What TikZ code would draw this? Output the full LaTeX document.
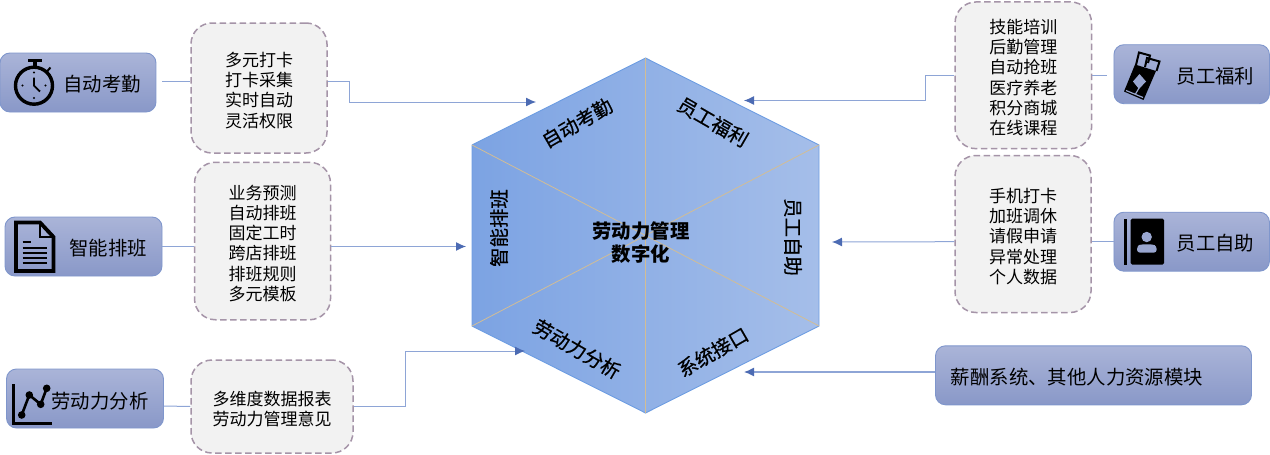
\documentclass[tikz,border=0pt]{standalone}
\usepackage{fontspec}
\setmainfont{Noto Sans CJK SC}
\newfontfamily\midfont[FakeBold=0.6]{Noto Sans CJK SC}
\usetikzlibrary{arrows.meta}

\definecolor{tagtop}{HTML}{AAB4D8}
\definecolor{tagbot}{HTML}{8998C8}
\definecolor{tagline}{HTML}{7F96CC}
\definecolor{tagfill}{HTML}{99A6CF}
\definecolor{listfill}{HTML}{F2F2F2}
\definecolor{listline}{HTML}{A594A8}
\definecolor{linkline}{HTML}{8EA5D6}
\definecolor{tipblue}{HTML}{4C6BB3}
\definecolor{hexleft}{HTML}{7CA3E3}
\definecolor{hexright}{HTML}{A5BEE9}
\definecolor{hexline}{HTML}{6D9DE2}
\definecolor{hexdiv}{HTML}{D2BD95}

\newcommand{\listdrop}{\rule{0pt}{19pt}}

\tikzset{
  tagbox/.style={draw=tagline, line width=0.9pt, rounded corners=10pt, top color=tagtop, bottom color=tagbot, minimum height=59pt, inner sep=0pt},
  tagtext/.style={font=\fontsize{19.4}{22}\selectfont, inner sep=0pt},
  listbox/.style={draw=listline, fill=listfill, line width=1.5pt, dash pattern=on 6.5pt off 3.5pt, rounded corners=21pt, inner sep=0pt, align=center, font=\fontsize{17}{20.3}\selectfont},
  hextext/.style={font=\midfont\fontsize{19.4}{22}\selectfont, inner sep=0pt},
  midtext/.style={font=\bfseries\fontsize{19.4}{23}\selectfont, inner sep=0pt, align=center},
  link/.style={draw=linkline, line width=1pt},
  linkto/.style={link, -{Latex[length=10pt,width=9pt,color=tipblue]}},
  hexdivide/.style={draw=hexdiv, line width=0.8pt},
}

\begin{document}
\begin{tikzpicture}[x=1pt,y=-1pt]
  \useasboundingbox (0,0) rectangle (1270,455);

  % Hexagono central
  \coordinate (hexT) at (645.5,58);
  \coordinate (hexTR) at (819,145);
  \coordinate (hexBR) at (819,326);
  \coordinate (hexB) at (645.5,413);
  \coordinate (hexBL) at (472,326);
  \coordinate (hexTL) at (472,145);
  \draw[draw=hexline, line width=0.9pt, left color=hexleft, right color=hexright]
    (hexT) -- (hexTR) -- (hexBR) -- (hexB) -- (hexBL) -- (hexTL) -- cycle;
  \draw[hexdivide] (hexT) -- (hexB);
  \draw[hexdivide] (hexTL) -- (hexBR);
  \draw[hexdivide] (hexTR) -- (hexBL);

  % Textos del hexagono
  \node[hextext, rotate=30] (hexAuto) at (577,123) {自动考勤};
  \node[hextext, rotate=-30] (hexBen) at (713,122) {员工福利};
  \node[hextext, rotate=90] (hexPlan) at (499,228) {智能排班};
  \node[hextext, rotate=-90] (hexSelf) at (793,237) {员工自助};
  \node[hextext, rotate=-30] (hexAnal) at (577,349) {劳动力分析};
  \node[hextext, rotate=30] (hexSys) at (713,352) {系统接口};
  \node[midtext] (hexMid) at (641,242.5) {劳动力管理\\数字化};

  % Cajas de la izquierda
  \node[tagbox, minimum width=156pt] (tagAuto) at (78,82.5) {};
  \node[tagbox, minimum width=157pt] (tagPlan) at (83.5,246.5) {};
  \node[tagbox, minimum width=157pt] (tagAnal) at (85,398.5) {};
  \node[tagtext] (txtAuto) at (102,84.5) {自动考勤};
  \node[tagtext] (txtPlan) at (108,248) {智能排班};
  \node[tagtext] (txtAnal) at (100,401) {劳动力分析};

  % Cajas de la derecha
  \node[tagbox, minimum width=155.5pt] (tagBen) at (1191.7,74.2) {};
  \node[tagbox, minimum width=155.5pt] (tagSelf) at (1191.7,241.7) {};
  \node[tagbox, minimum width=316pt] (tagSys) at (1093.5,375.3) {};
  \node[tagtext] (txtBen) at (1215.5,76) {员工福利};
  \node[tagtext] (txtSelf) at (1215.5,243) {员工自助};
  \node[tagtext] (txtSys) at (1077,376.7) {薪酬系统、其他人力资源模块};

  % Listas punteadas
  \node[listbox, minimum width=136pt, minimum height=130pt] (listAuto) at (259,88)
    {\listdrop 多元打卡\\打卡采集\\实时自动\\灵活权限};
  \node[listbox, minimum width=136pt, minimum height=157.5pt] (listPlan) at (262.5,241)
    {\listdrop 业务预测\\自动排班\\固定工时\\跨店排班\\排班规则\\多元模板};
  \node[listbox, minimum width=162pt, minimum height=93pt] (listAnal) at (272,406.5)
    {\listdrop 多维度数据报表\\劳动力管理意见};
  \node[listbox, minimum width=136.5pt, minimum height=146.7pt] (listBen) at (1023.3,75.3)
    {\listdrop 技能培训\\后勤管理\\自动抢班\\医疗养老\\积分商城\\在线课程};
  \node[listbox, minimum width=136pt, minimum height=157pt] (listSelf) at (1023,234)
    {\listdrop 手机打卡\\加班调休\\请假申请\\异常处理\\个人数据};

  % Puntas de las flechas
  \coordinate (toAuto) at (536,102);
  \coordinate (toPlan) at (466,246.5);
  \coordinate (toAnal) at (525,351);
  \coordinate (toBen) at (744,100.5);
  \coordinate (toSelf) at (832,242);
  \coordinate (toSys) at (744,372);

  % Conectores de la izquierda
  \draw[link] ([xshift=6pt,yshift=1.5pt]tagAuto.east) -- ([yshift=7pt]listAuto.west);
  \draw[linkto] ([yshift=7pt]listAuto.east) -- (349,81) -- (349,102) -- (toAuto);
  \draw[link] (tagPlan.east) -- ([yshift=-5.5pt]listPlan.west);
  \draw[linkto] ([yshift=-5.5pt]listPlan.east) -- (toPlan);
  \draw[link] ([yshift=-7.5pt]tagAnal.east) -- (listAnal.west);
  \draw[linkto] (listAnal.east) -- (405,406.5) -- (405,351) -- (toAnal);

  % Conectores de la derecha
  \draw[link] ([xshift=-7pt,yshift=-1.1pt]tagBen.west) -- (listBen.east);
  \draw[linkto] (listBen.west) -- (925.3,75.3) -- (925.3,100.5) -- (toBen);
  \draw[link] (tagSelf.west) -- ([yshift=-7.7pt]listSelf.east);
  \draw[linkto] ([yshift=-7.7pt]listSelf.west) -- (toSelf);
  \draw[linkto, line width=1.3pt] ([yshift=3.3pt]tagSys.west) -- (toSys);

  % Icono cronometro
  \draw[line width=3.4pt] (34,85.7) circle (18.5pt);
  \fill (27.7,59.3) rectangle (41.7,62);
  \fill (32.5,62) rectangle (36.5,66);
  \draw[line width=2pt] (46.5,72) -- (50.5,67.5);
  \draw[line width=1.8pt] (34,77.5) -- (34,85.7) -- (40,91.5);
  \foreach \px/\py in {34/72.5, 34/98, 22.5/85.5, 45.5/85.5} {
    \fill (\px,\py) circle (1.2pt);
  }

  % Icono documento
  \draw[line width=3.8pt, line join=miter] (40,222.5) -- (16,222.5) -- (16,271) -- (53.5,271) -- (53.5,237) -- cycle;
  \draw[line width=2.5pt] (40,222.5) -- (40,237) -- (53.5,237);
  \draw[line width=2.2pt] (22.5,242.3) -- (31,242.3);
  \foreach \ly in {247.7,252.7,257.7,262.7} {
    \draw[line width=2.2pt] (22.5,\ly) -- (47,\ly);
  }

  % Icono grafica
  \draw[line width=3pt] (13,384) -- (13,423.5) -- (52,423.5);
  \draw[line width=2.6pt] (21.7,415) -- (29.3,395) -- (40.7,404.3) -- (46.7,388.3);
  \foreach \px/\py in {21.7/415, 29.3/395, 40.7/404.3, 46.7/388.3} {
    \fill (\px,\py) circle (3.8pt);
  }

  % Icono tarjetas
  \draw[line width=2pt] (1136,65) -- (1139,52.5) -- (1150,55.5) -- (1148,63);
  \draw[line width=2pt] (1145,67) -- (1147,58) -- (1159.5,61.5) -- (1156.5,71);
  \fill (1135,64.5) -- (1156,71) -- (1143.5,100) -- (1124,91.5) -- cycle;
  \fill[tagfill] (1139.5,74) -- (1146,81.5) -- (1139,89) -- (1133,81.5) -- cycle;
  \draw[tagfill, line width=1.2pt] (1139,88) -- (1135.5,94);
  \draw[tagfill, line width=1.2pt] (1126,90.5) -- (1143,97.5);

  % Icono agenda
  \fill (1124.3,218.7) rectangle (1127,264.7);
  \fill[rounded corners=1.5pt] (1130.7,218.7) rectangle (1164,264.7);
  \fill[tagfill] (1146.7,237) circle (5.2pt);
  \fill[tagfill, rounded corners=3pt] (1137,252.7) -- (1137,246) -- (1141,244.3) -- (1152.5,244.3) -- (1156.7,246) -- (1156.7,252.7) -- cycle;
\end{tikzpicture}
\end{document}
